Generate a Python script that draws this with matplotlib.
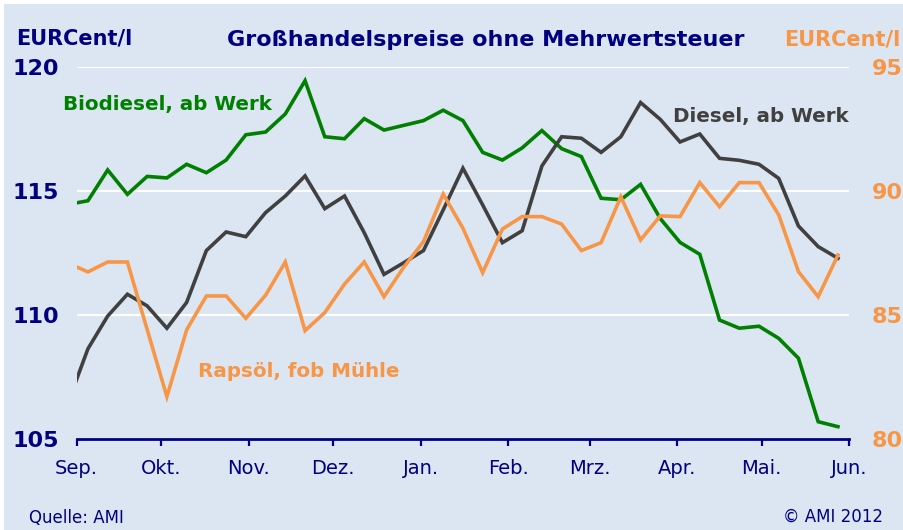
import pandas as pd
import matplotlib
matplotlib.use("Agg")
import matplotlib.pyplot as plt
from matplotlib.patches import Rectangle

# weekly quotes, first week starts before the visible range
week_start = "2011-08-29"
biodiesel = [114.47,
             114.62, 115.86, 114.88, 115.60, 115.54, 116.09, 115.75, 116.26, 117.28,
             117.39, 118.12, 119.46, 117.20, 117.12, 117.93, 117.47, 117.66, 117.85,
             118.27, 117.85, 116.57, 116.26, 116.75, 117.45, 116.72, 116.40, 114.72, 114.66,
             115.28, 113.90, 112.94, 112.46, 109.81, 109.48, 109.56, 109.07, 108.27, 105.71, 105.51]
diesel = [106.50,
          108.65, 109.97, 110.85, 110.38, 109.48, 110.52, 112.61, 113.36, 113.17,
          114.14, 114.81, 115.62, 114.30, 114.81, 113.33, 111.65, 112.12, 112.61,
          114.25, 115.93, 114.45, 112.93, 113.41, 116.02, 117.20, 117.14, 116.57, 117.20,
          118.58, 117.90, 116.99, 117.31, 116.33, 116.25, 116.09, 115.52, 113.60, 112.77, 112.30]
# rapeseed oil, right axis
rapsoel = [87.10,
           86.75, 87.15, 87.15, 84.43, 81.72, 84.41, 85.78, 85.78, 84.88,
           85.81, 87.15, 84.38, 85.11, 86.26, 87.15, 85.75, 86.94, 87.97, 89.89,
           88.51, 86.72, 88.48, 88.98, 88.98, 88.68, 87.61, 87.93, 89.78, 88.04,
           89.01, 88.98, 90.35, 89.38, 90.35, 90.35, 89.05, 86.76, 85.75, 87.43]

month_starts = ["2011-09-01", "2011-10-01", "2011-11-01", "2011-12-01", "2012-01-01",
                "2012-02-01", "2012-03-01", "2012-04-01", "2012-05-01", "2012-06-01"]
month_labels = ["Sep.", "Okt.", "Nov.", "Dez.", "Jan.", "Feb.", "Mrz.", "Apr.", "Mai.", "Jun."]
left_ticks = [105, 110, 115, 120]
right_ticks = [80, 85, 90, 95]

bg = "#dce6f2"
navy = "#000080"
green = "#008000"
grey = "#404040"
orange = "#f79646"

dates = pd.date_range(week_start, periods=len(biodiesel), freq="7D")
mdates_ = pd.to_datetime(month_starts)

plt.rcParams["font.family"] = ["DejaVu Sans"]
fig = plt.figure(figsize=(9.04, 5.30), dpi=100, facecolor=bg)
ax = fig.add_axes([0.0848, 0.1711, 0.8546, 0.7019])
ax.set_facecolor(bg)
ax2 = ax.twinx()

ax.set_ylim(105, 120)
ax2.set_ylim(80, 95)
ax.set_xlim(mdates_[0], mdates_[-1])

ax.set_yticks(left_ticks)
ax.grid(axis="y", color="white", linewidth=1.5)
ax.set_axisbelow(True)

ax.plot(dates, biodiesel, color=green, linewidth=2.6, solid_joinstyle="miter", zorder=3)
ax.plot(dates, diesel, color=grey, linewidth=2.6, solid_joinstyle="miter", zorder=3)
ax2.plot(dates, rapsoel, color=orange, linewidth=2.6, solid_joinstyle="miter", zorder=3)

for a in (ax, ax2):
    for s in a.spines.values():
        s.set_visible(False)
ax.spines["bottom"].set_visible(True)
ax.spines["bottom"].set_color(navy)
ax.spines["bottom"].set_linewidth(2.0)

ax.set_xticks(mdates_)
ax.set_xticklabels(month_labels, fontsize=14, color=navy)
ax.tick_params(axis="x", direction="out", length=5, width=1.6, color=navy, pad=9)

ax.tick_params(axis="y", length=0, pad=46.5, labelsize=16, labelcolor=navy)
for lbl in ax.get_yticklabels():
    lbl.set_ha("left")
    lbl.set_fontweight("bold")

ax2.set_yticks(right_ticks)
ax2.tick_params(axis="y", length=0, pad=38.5, labelsize=16, labelcolor=orange)
for lbl in ax2.get_yticklabels():
    lbl.set_ha("right")
    lbl.set_fontweight("bold")

fig.text(0.537, 0.925, "Großhandelspreise ohne Mehrwertsteuer", ha="center", va="center",
         fontsize=16, fontweight="bold", color=navy)
fig.text(0.018, 0.928, "EURCent/l", ha="left", va="center", fontsize=15, fontweight="bold", color=navy)
fig.text(0.996, 0.926, "EURCent/l", ha="right", va="center", fontsize=15, fontweight="bold", color=orange)

fig.text(0.070, 0.802, "Biodiesel, ab Werk", ha="left", va="center", fontsize=14.3,
         fontweight="bold", color=green)
fig.text(0.744, 0.780, "Diesel, ab Werk", ha="left", va="center", fontsize=14.3,
         fontweight="bold", color=grey)
fig.text(0.219, 0.299, "Rapsöl, fob Mühle", ha="left", va="center", fontsize=14.3,
         fontweight="bold", color=orange)

fig.text(0.032, 0.023, "Quelle: AMI", ha="left", va="center", fontsize=12, color=navy)
fig.text(0.977, 0.025, "© AMI 2012", ha="right", va="center", fontsize=12, color=navy)

# thin white frame at the top and left edge
fig.add_artist(Rectangle((0, 0.993), 1, 0.007, transform=fig.transFigure, color="white", lw=0))
fig.add_artist(Rectangle((0, 0), 0.004, 1, transform=fig.transFigure, color="white", lw=0))

fig.savefig("out.png", dpi=100, facecolor=bg)
